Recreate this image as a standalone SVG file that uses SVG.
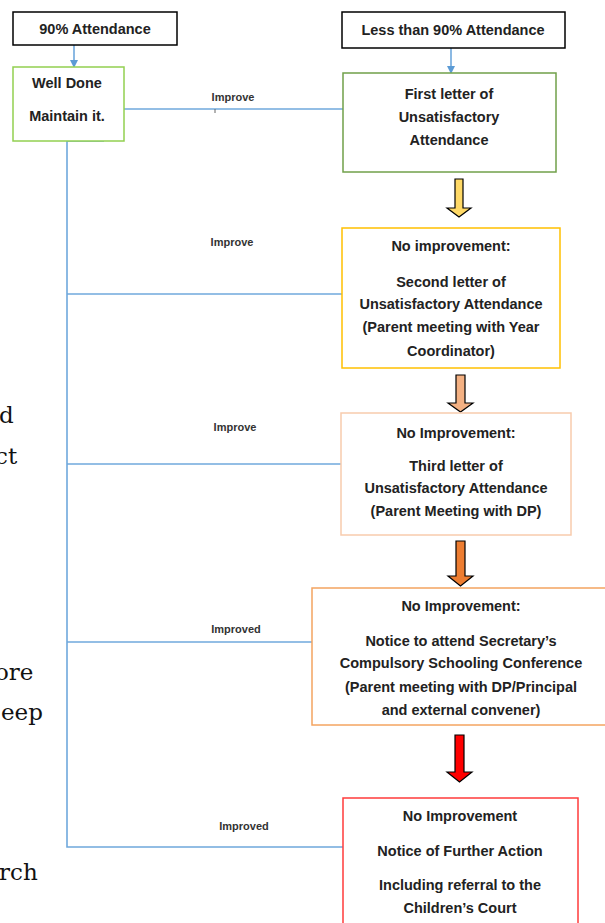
<svg xmlns="http://www.w3.org/2000/svg" width="605" height="923" viewBox="0 0 605 923">
<defs>
<style>
.t{font-family:"Liberation Sans",Arial,sans-serif;font-weight:bold;font-size:14.5px;fill:#222;text-anchor:middle}
.s{font-family:"Liberation Sans",Arial,sans-serif;font-weight:bold;font-size:11px;fill:#333;text-anchor:middle}
.f{font-family:"DejaVu Serif","Liberation Serif",serif;font-size:23px;fill:#111}
.c{fill:none;stroke:#6fa8dc;stroke-width:1.6}
.b{fill:#fff;stroke-width:1.5}
.blk{stroke:#000;stroke-width:1.2}
</style>
<marker id="ah" markerWidth="8" markerHeight="8" refX="6" refY="4" orient="auto" markerUnits="userSpaceOnUse"><path d="M0,0 L8,4 L0,8 z" fill="#5b9bd5"/></marker>
</defs>
<rect width="605" height="923" fill="#fff"/>
<g id="fragments">
<text class="f" x="-1" y="423">d</text>
<text class="f" x="-5" y="464">ct</text>
<text class="f" x="-5" y="680">ore</text>
<text class="f" x="1" y="720">eep</text>
<text class="f" x="-1" y="880">rch</text>
</g>
<g id="connectors">
<line class="c" x1="74" y1="45" x2="74" y2="66" marker-end="url(#ah)"/>
<line class="c" x1="451" y1="48" x2="451" y2="72" marker-end="url(#ah)"/>
<line class="c" x1="124" y1="109" x2="343" y2="109"/>
<line class="c" x1="215" y1="109" x2="215" y2="113" style="stroke:#666;stroke-width:1"/>
<polyline class="c" points="104,141 67,141 67,847 343,847"/>
<line class="c" x1="67" y1="294" x2="342" y2="294"/>
<line class="c" x1="67" y1="464" x2="341" y2="464"/>
<line class="c" x1="67" y1="642" x2="312" y2="642"/>
<text class="s" x="233" y="101">Improve</text>
<text class="s" x="232" y="246">Improve</text>
<text class="s" x="235" y="431">Improve</text>
<text class="s" x="236" y="633">Improved</text>
<text class="s" x="244" y="830">Improved</text>
<path class="blk" fill="#ffd966" d="M455,179 H463 V208 H471 L459,217 L447,208 H455 Z"/>
<path class="blk" fill="#f4b183" d="M456,375 H465 V403 H473 L460.5,412 L448,403 H456 Z"/>
<path class="blk" fill="#ed7d31" d="M456,541 H465 V576 H473 L460.5,586 L448,576 H456 Z"/>
<path class="blk" fill="#ff0000" d="M455,735 H464 V772 H472 L459.5,782 L447,772 H455 Z"/>
</g>
<g id="n90">
<rect class="b" x="13" y="12" width="164" height="33" stroke="#000"/>
<text class="t" x="95" y="34">90% Attendance</text>
</g>
<g id="nless">
<rect class="b" x="342" y="12" width="223" height="36" stroke="#000"/>
<text class="t" x="453" y="35">Less than 90% Attendance</text>
</g>
<g id="nwell">
<rect class="b" x="13" y="67" width="111" height="74" stroke="#92d050"/>
<text class="t" x="67" y="88">Well Done</text>
<text class="t" x="67" y="121">Maintain it.</text>
</g>
<g id="nfirst">
<rect class="b" x="343" y="73" width="213" height="99" stroke="#70a04a"/>
<text class="t" x="449" y="99">First letter of</text>
<text class="t" x="449" y="122">Unsatisfactory</text>
<text class="t" x="449" y="145">Attendance</text>
</g>
<g id="nsecond">
<rect class="b" x="342" y="228" width="218" height="140" stroke="#ffc000"/>
<text class="t" x="451" y="251">No improvement:</text>
<text class="t" x="451" y="287">Second letter of</text>
<text class="t" x="451" y="309">Unsatisfactory Attendance</text>
<text class="t" x="451" y="332">(Parent meeting with Year</text>
<text class="t" x="451" y="356">Coordinator)</text>
</g>
<g id="nthird">
<rect class="b" x="341" y="413" width="230" height="122" stroke="#f8cbad"/>
<text class="t" x="456" y="438">No Improvement:</text>
<text class="t" x="456" y="471">Third letter of</text>
<text class="t" x="456" y="493">Unsatisfactory Attendance</text>
<text class="t" x="456" y="516">(Parent Meeting with DP)</text>
</g>
<g id="nfourth">
<rect class="b" x="312" y="588" width="300" height="137" stroke="#f4a460"/>
<text class="t" x="461" y="611">No Improvement:</text>
<text class="t" x="461" y="646">Notice to attend Secretary’s</text>
<text class="t" x="461" y="668">Compulsory Schooling Conference</text>
<text class="t" x="461" y="692">(Parent meeting with DP/Principal</text>
<text class="t" x="461" y="715">and external convener)</text>
</g>
<g id="nfifth">
<rect class="b" x="343" y="798" width="235" height="135" stroke="#ff3b3b"/>
<text class="t" x="460" y="821">No Improvement</text>
<text class="t" x="460" y="856">Notice of Further Action</text>
<text class="t" x="460" y="890">Including referral to the</text>
<text class="t" x="460" y="913">Children’s Court</text>
</g>
</svg>
